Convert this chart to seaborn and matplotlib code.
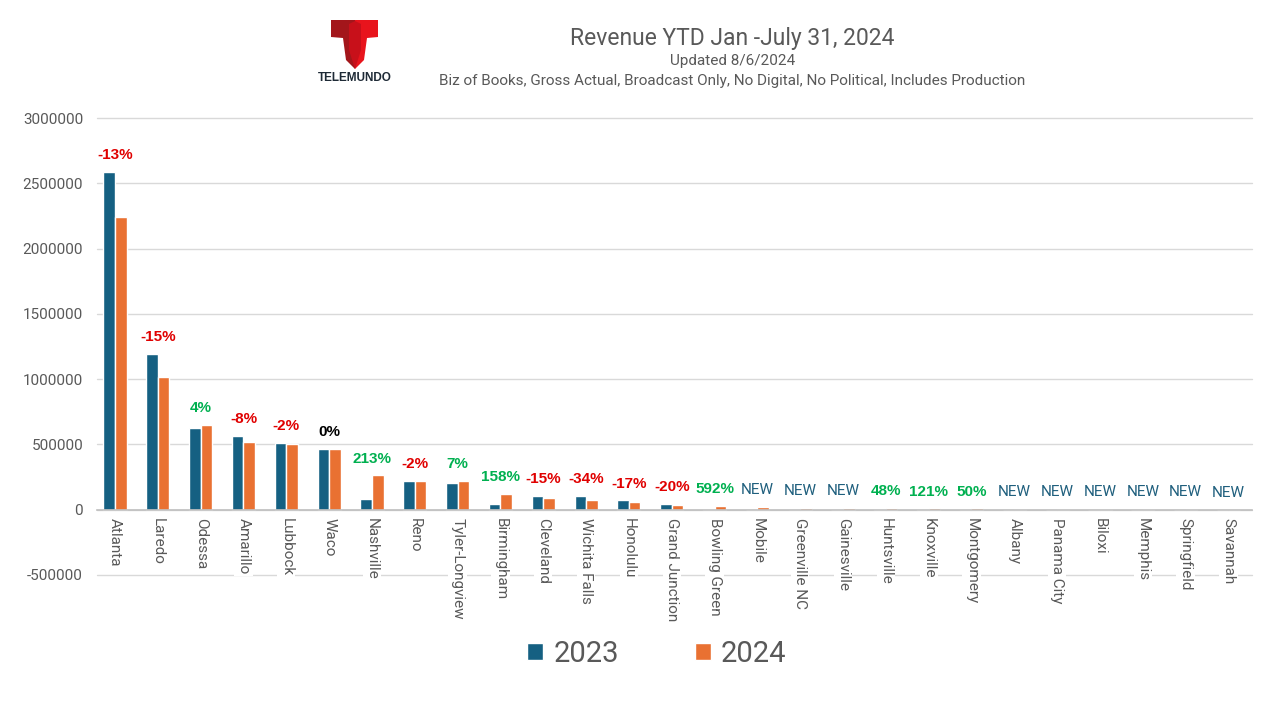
import matplotlib
matplotlib.use("Agg")
import matplotlib.pyplot as plt
import pandas as pd
import seaborn as sns
from matplotlib.patches import Patch, Polygon

markets = [
    "Atlanta", "Laredo", "Odessa", "Amarillo", "Lubbock", "Waco", "Nashville",
    "Reno", "Tyler-Longview", "Birmingham", "Cleveland", "Wichita Falls",
    "Honolulu", "Grand Junction", "Bowling Green", "Mobile", "Greenville NC",
    "Gainesville", "Huntsville", "Knoxville", "Montgomery", "Albany",
    "Panama City", "Biloxi", "Memphis", "Springfield", "Savannah",
]
rev_2023 = [
    2587000, 1194000, 627000, 566000, 513000, 467000, 84000,
    222000, 207000, 47000, 107000, 107000,
    71000, 47000, 4300, 0, 0,
    0, 8000, 5000, 7000, 0,
    0, 0, 0, 0, 0,
]
rev_2024 = [
    2242000, 1018000, 650000, 520000, 505000, 467000, 263000,
    218000, 222000, 121000, 91000, 71000,
    59000, 37000, 30000, 22000, 15000,
    15000, 12000, 11000, 10500, 8000,
    8000, 7000, 6000, 6000, 1500,
]
change_labels = [
    "-13%", "-15%", "4%", "-8%", "-2%", "0%", "213%",
    "-2%", "7%", "158%", "-15%", "-34%",
    "-17%", "-20%", "592%", "NEW", "NEW",
    "NEW", "48%", "121%", "50%", "NEW",
    "NEW", "NEW", "NEW", "NEW", "NEW",
]

C23 = "#156082"
C24 = "#E97132"
GREY = "#595959"

df = pd.DataFrame({
    "market": markets * 2,
    "revenue": rev_2023 + rev_2024,
    "year": ["2023"] * len(markets) + ["2024"] * len(markets),
})

sns.set_theme(style="white")
plt.rcParams["font.family"] = ["Roboto", "DejaVu Sans"]

fig = plt.figure(figsize=(12.8, 7.2), dpi=100)
ax = fig.add_axes([97 / 1280, 0.2014, 1155 / 1280, 0.6347])

sns.barplot(data=df, x="market", y="revenue", hue="year",
            palette=[C23, C24], width=0.54, gap=0, ax=ax,
            legend=False, saturation=1, errorbar=None)

ax.set_ylim(-500000, 3000000)
ax.set_yticks(range(-500000, 3000001, 500000))
ax.set_yticklabels([str(v) for v in range(-500000, 3000001, 500000)],
                   fontsize=11, color=GREY)
ax.set_xlim(-0.42, len(markets) - 0.45)
ax.yaxis.grid(True, color="#D9D9D9", linewidth=1)
for gl in ax.get_ygridlines():
    gl.set_clip_on(False)
ax.set_axisbelow(True)
for s in ["top", "right", "left"]:
    ax.spines[s].set_visible(False)
ax.spines["bottom"].set_position(("data", 0))
ax.spines["bottom"].set_color("#BFBFBF")
ax.spines["bottom"].set_linewidth(1.2)
ax.tick_params(axis="both", length=0)
ax.tick_params(axis="y", pad=10)
ax.tick_params(axis="x", pad=6)
ax.set_xlabel("")
ax.set_ylabel("")
ax.set_xticks(range(len(markets)))
ax.set_xticklabels(markets, rotation=270, fontsize=11, color=GREY,
                   va="top", ha="center")
for lbl in ax.get_xticklabels():
    lbl.set_bbox(dict(facecolor="white", edgecolor="none", pad=1.5))
ax.xaxis.set_zorder(1.6)

# change labels above each pair of bars
for i, txt in enumerate(change_labels):
    top = max(rev_2023[i], rev_2024[i])
    if txt == "NEW":
        col, wt, fam, fs = "#1F5F7D", "normal", ["Roboto"], 11
    elif txt.startswith("-"):
        col, wt, fam, fs = "#E00000", "bold", ["Liberation Sans"], 11
    elif txt == "0%":
        col, wt, fam, fs = "black", "bold", ["Liberation Sans"], 11
    else:
        col, wt, fam, fs = "#00B050", "bold", ["Liberation Sans"], 11
    ax.annotate(txt, (i, top), xytext=(0, 7), textcoords="offset points",
                ha="center", va="bottom", color=col, fontweight=wt,
                family=fam, fontsize=fs)

# titles
fig.text(0.572, 1 - 38 / 720, "Revenue YTD Jan -July 31, 2024",
         ha="center", va="center", fontsize=16.5, color=GREY)
fig.text(0.572, 1 - 61 / 720, "Updated 8/6/2024",
         ha="center", va="center", fontsize=11, color=GREY)
fig.text(0.572, 1 - 81 / 720,
         "Biz of Books, Gross Actual, Broadcast Only, No Digital, No Political, Includes Production",
         ha="center", va="center", fontsize=11, color=GREY)

# rough Telemundo logo
def px(pts):
    return [(x / 1280, 1 - y / 720) for x, y in pts]

fig.add_artist(Polygon(px([(331, 20), (355, 20), (355, 69), (346, 60),
                           (343, 38), (331, 37)]),
                       closed=True, facecolor="#A3161B", edgecolor="none",
                       transform=fig.transFigure))
fig.add_artist(Polygon(px([(355, 20), (378, 20), (378, 37), (367, 38),
                           (364, 60), (355, 69)]),
                       closed=True, facecolor="#E8141C", edgecolor="none",
                       transform=fig.transFigure))
fig.add_artist(Polygon(px([(349, 24), (355, 21), (361, 24), (361, 50),
                           (355, 69), (349, 50)]),
                       closed=True, facecolor="#C8101A", edgecolor="none",
                       transform=fig.transFigure))
fig.text(355 / 1280, 1 - 78 / 720, "TELEMUNDO", ha="center", va="center",
         fontsize=8.5, fontweight="bold", color="#1E2A36",
         family=["Liberation Sans"])

# legend
handles = [Patch(facecolor=C23, label="2023"), Patch(facecolor=C24, label="2024")]
leg = fig.legend(handles=handles, loc="center", ncol=2,
                 bbox_to_anchor=(0.513, 1 - 654 / 720), frameon=False,
                 fontsize=21, handlelength=0.55, handleheight=0.55,
                 handletextpad=0.35, columnspacing=2.6)
for t in leg.get_texts():
    t.set_color(GREY)

fig.savefig("out.png", dpi=100, facecolor="white")
